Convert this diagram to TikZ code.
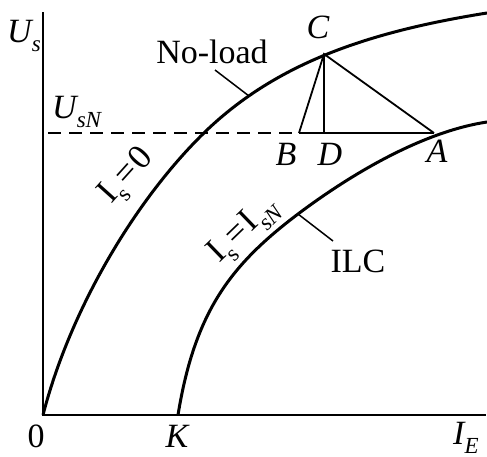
\documentclass[tikz,border=0pt]{standalone}
\usepackage{fontspec}
\setmainfont{Liberation Serif}
\newcommand{\lo}[1]{\raisebox{-0.28em}{\fontsize{23}{23}\selectfont #1}}
\begin{document}
\begin{tikzpicture}[x=1pt,y=-1pt,
  lbl/.style={font=\fontsize{34}{40}\selectfont, inner sep=0pt},
  rlbl/.style={font=\fontsize{35}{40}\selectfont, inner sep=0pt},
  curve/.style={line width=3pt},
  thin/.style={line width=1.8pt},
  axis/.style={line width=2pt},
  leader/.style={line width=1.5pt}]
\useasboundingbox (0,0) rectangle (487,456);
% axes
\coordinate (O) at (43,415);
\coordinate (ytop) at (43,12);
\coordinate (xend) at (486,415);
\draw[axis] (ytop) -- (O) -- (xend);
% curves
\coordinate (NLm) at (207,130);
\coordinate (NLe) at (487,13);
\draw[curve] (O) .. controls (70.5,308) and (137,197) .. (NLm)
  .. controls (277,63.5) and (367,32) .. (NLe);
\coordinate (K) at (178,415);
\coordinate (ILm) at (298,214);
\coordinate (ILe) at (487,122);
\draw[curve] (K) .. controls (195,310) and (232,264) .. (ILm)
  .. controls (358,169) and (427,131) .. (ILe);
% triangle points
\coordinate (Ldash) at (48,133);
\coordinate (B) at (299,133);
\coordinate (C) at (324,54);
\coordinate (D) at (324,133);
\coordinate (A) at (434,133);
\draw[leader, dash pattern=on 13pt off 8pt] (Ldash) -- (B);
\draw[thin] (B) -- (A);
\draw[thin] (B) -- (C) -- (A);
\draw[thin] (C) -- (D);
% leaders
\coordinate (nl1) at (215,70);
\coordinate (nl2) at (249,96);
\draw[leader] (nl1) -- (nl2);
\coordinate (il2) at (333,241);
\draw[leader] (ILm) -- (il2);
% labels
\node[lbl, anchor=base] (tnl) at (212,63) {No-load};
\node[lbl, anchor=base] (tilc) at (358,272) {ILC};
\node[lbl, anchor=base] (tC) at (318,38) {\itshape C};
\node[lbl, anchor=base] (tB) at (286,165) {\itshape B};
\node[lbl, anchor=base] (tD) at (330,165) {\itshape D};
\node[lbl, anchor=base] (tA) at (437,162) {\itshape A};
\node[lbl, anchor=base] (t0) at (36,447) {0};
\node[lbl, anchor=base] (tK) at (177,447) {\itshape K};
\node[lbl, anchor=base west] (tIE) at (453,444) {\itshape I\lo{E}};
\node[lbl, anchor=base west] (tUs) at (7,42) {\itshape U\lo{s}};
\node[lbl, anchor=base west] (tUsN) at (52,118) {\itshape U\lo{sN}};
\node[rlbl, rotate=48] (tI0) at (128,177) {I\lo{s}\kern3pt=\kern2pt0};
\node[rlbl, rotate=44] (tIN) at (244,231) {I\lo{s}\kern3pt=\kern2pt I\lo{\itshape sN}};
\end{tikzpicture}
\end{document}
